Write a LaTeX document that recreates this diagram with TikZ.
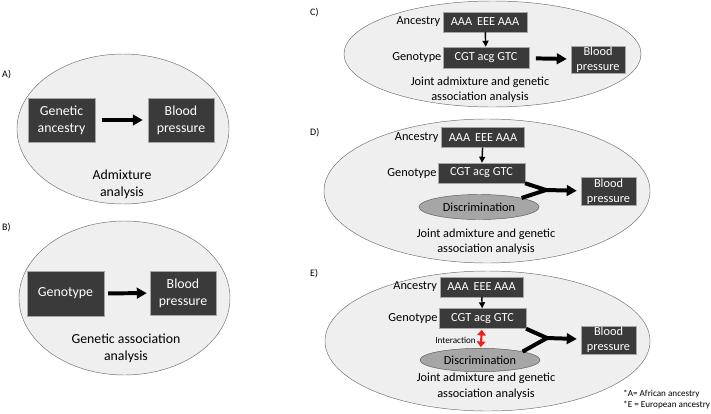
\documentclass[tikz,border=0pt]{standalone}
\usepackage{fontspec}
\setmainfont{Carlito}
\usetikzlibrary{arrows.meta, positioning, shapes.geometric}
\definecolor{boxdark}{HTML}{3A3A3A}
\definecolor{boxedge}{HTML}{A6A6A6}
\definecolor{panelfill}{HTML}{EFEFEF}
\definecolor{paneledge}{HTML}{707070}
\definecolor{discfill}{HTML}{A6A6A6}
\definecolor{discedge}{HTML}{5A5A5A}
\definecolor{interred}{HTML}{E8221C}

\begin{document}
\begin{tikzpicture}[x=0.03cm, y=-0.03cm,
    panel/.style={ellipse, draw=paneledge, fill=panelfill, line width=0.4pt, inner sep=0pt},
    bigbox/.style={rectangle, draw=boxedge, fill=boxdark, text=white, align=center, inner sep=1pt, line width=0.4pt, font=\fontsize{11.8}{14.5}\selectfont},
    seqbox/.style={rectangle, draw=boxedge, fill=boxdark, text=white, align=center, inner sep=1pt, line width=0.4pt, minimum height=0.6cm, font=\fontsize{10.5}{12.5}\selectfont},
    disc/.style={ellipse, draw=discedge, fill=discfill, inner sep=0pt, minimum width=3.6cm, minimum height=0.75cm, font=\fontsize{10.5}{12.5}\selectfont},
    lbl/.style={inner sep=1pt, font=\fontsize{10.5}{12.5}\selectfont},
    caption/.style={align=center, inner sep=0pt},
    tag/.style={inner sep=0pt, anchor=west, font=\fontsize{8.5}{10}\selectfont},
    note/.style={inner sep=0pt, anchor=west, font=\fontsize{7.8}{9}\selectfont},
    bigarrow/.style={-{Triangle[length=3mm, width=3.2mm]}, line width=3.4pt, shorten <=0.2cm, shorten >=0.15cm},
    downarrow/.style={-{Triangle[length=1.8mm, width=1.8mm]}, line width=1.2pt},
    fork/.style={line width=3.4pt},
    forkarrow/.style={-{Triangle[length=3mm, width=3.2mm]}, line width=3.4pt, shorten >=0.12cm},
    interarrow/.style={{Triangle[length=1.7mm, width=2.6mm]}-{Triangle[length=1.7mm, width=2.6mm]}, line width=1.8pt, interred, shorten <=0.03cm, shorten >=0.03cm},
  ]
  \useasboundingbox (0,0) rectangle (711,413);

  \node[tag] (ta) at (2,75) {A)};
  \node[panel, minimum width=6.36cm, minimum height=4.5cm] (pa) at (123,129) {};
  \node[bigbox, minimum width=2.01cm, minimum height=1.32cm] (aanc) at (61.5,120) {Genetic\\ancestry};
  \node[bigbox, minimum width=1.98cm, minimum height=1.32cm] (abp) at (181,120) {Blood\\pressure};
  \node[caption, font=\fontsize{11.8}{14.5}\selectfont] (acap) at (122,184.5) {Admixture\\analysis};
  \draw[bigarrow] (aanc) -- (abp);

  \node[tag] (tb) at (2,228) {B)};
  \node[panel, minimum width=6.33cm, minimum height=4.62cm] (pb) at (124.5,298) {};
  \node[bigbox, minimum width=2.31cm, minimum height=1.35cm] (bgen) at (65.5,293.5) {Genotype};
  \node[bigbox, minimum width=1.98cm, minimum height=1.32cm] (bbp) at (183,293) {Blood\\pressure};
  \node[caption, font=\fontsize{11.8}{14.5}\selectfont] (bcap) at (126,348.5) {Genetic association\\analysis};
  \draw[bigarrow, shorten <=0.12cm, shorten >=0.09cm] (bgen) -- (bbp);

  \node[tag] (tc) at (310,13) {C)};
  \node[panel, minimum width=8.91cm, minimum height=3.18cm] (pc) at (492.5,54) {};
  \node[seqbox, minimum width=2.52cm] (canc) at (485,22) {AAA\, EEE AAA};
  \node[seqbox, minimum width=2.58cm, minimum height=0.63cm] (cgen) at (486,57.5) {CGT acg GTC};
  \node[seqbox, minimum width=1.62cm, minimum height=0.81cm] (cbp) at (598,59.5) {Blood\\pressure};
  \node[lbl, left=1pt of canc] (cancl) {Ancestry};
  \node[lbl, left=0pt of cgen] (cgenl) {Genotype};
  \node[caption, font=\fontsize{10.5}{12.8}\selectfont] (ccap) at (480,89.5) {Joint admixture and genetic\\association analysis};
  \draw[downarrow] (canc) -- (cgen);
  \draw[bigarrow, shorten >=0.12cm] (cgen) -- (cbp);

  \node[tag] (td) at (310,133) {D)};
  \node[panel, minimum width=9.78cm, minimum height=4.32cm] (pd) at (487,191) {};
  \node[seqbox, minimum width=2.5cm] (danc) at (483,137.5) {AAA\, EEE AAA};
  \node[seqbox, minimum width=2.6cm] (dgen) at (481.5,173) {CGT acg GTC};
  \node[disc] (ddisc) at (479,207) {Discrimination};
  \node[seqbox, minimum width=1.65cm, minimum height=0.84cm] (dbp) at (608.5,191.5) {Blood\\pressure};
  \node[lbl, left=1pt of danc] (dancl) {Ancestry};
  \node[lbl, left=0pt of dgen] (dgenl) {Genotype};
  \node[caption, font=\fontsize{10.5}{12.5}\selectfont] (dcap) at (486,242) {Joint admixture and genetic\\association analysis};
  \coordinate (dfork) at (546,190);
  \draw[downarrow] (danc) -- (dgen);
  \draw[fork] (dgen.south east) -- (dfork);
  \draw[fork] (ddisc.north east) -- (dfork);
  \draw[forkarrow] (dfork) -- (dbp);

  \node[tag] (te) at (310,274) {E)};
  \node[panel, minimum width=9.75cm, minimum height=4.2cm] (pe) at (487.5,341) {};
  \node[seqbox, minimum width=2.5cm] (eanc) at (481.5,287) {AAA\, EEE AAA};
  \node[seqbox, minimum width=2.6cm] (egen) at (482.5,318.5) {CGT acg GTC};
  \node[disc, minimum height=0.7cm] (edisc) at (480,360) {Discrimination};
  \node[seqbox, minimum width=1.65cm, minimum height=0.8cm] (ebp) at (608.5,340) {Blood\\pressure};
  \node[lbl, left=1pt of eanc] (eancl) {Ancestry};
  \node[lbl, left=0pt of egen] (egenl) {Genotype};
  \node[caption, font=\fontsize{10.5}{14}\selectfont] (ecap) at (486,386.5) {Joint admixture and genetic\\association analysis};
  \coordinate (efork) at (547,338);
  \draw[downarrow] (eanc) -- (egen);
  \draw[interarrow] (egen) -- (edisc);
  \node[inner sep=0pt, anchor=east, font=\fontsize{7.8}{9}\selectfont] (einter) at (476,340.5) {Interaction};
  \draw[fork] (egen.south east) -- (efork);
  \draw[fork] (edisc.north east) -- (efork);
  \draw[forkarrow] (efork) -- (ebp);

  \node[note] (nota) at (623,394) {*A= African ancestry};
  \node[note] (note) at (623,405) {*E = European ancestry};
\end{tikzpicture}
\end{document}
